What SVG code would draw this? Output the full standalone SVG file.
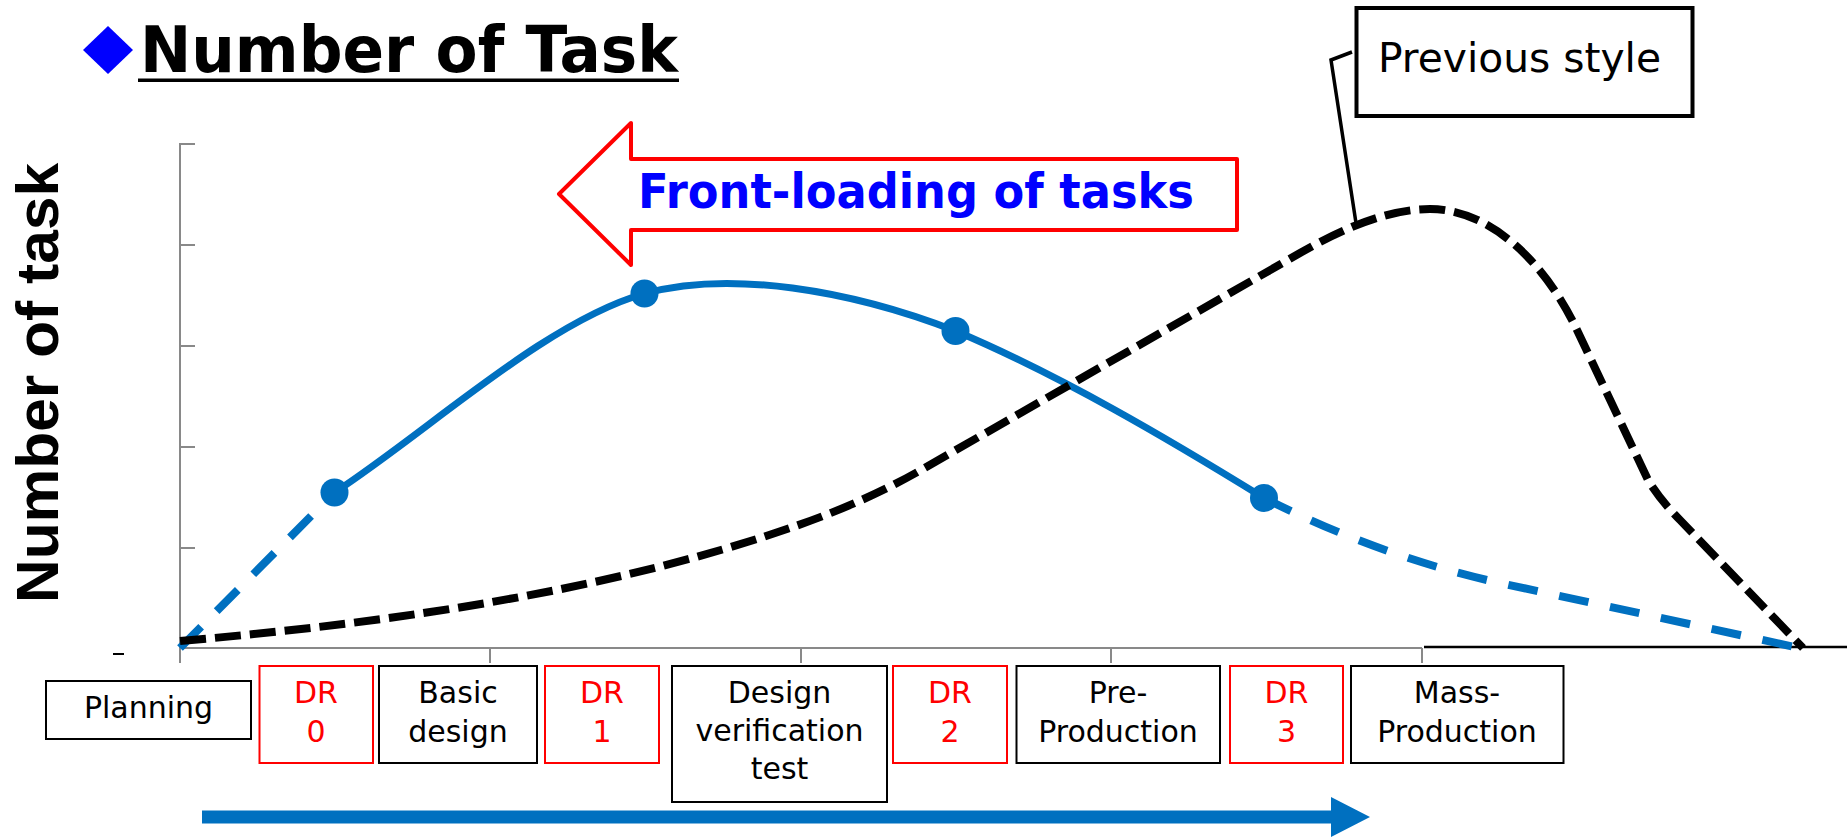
<svg xmlns="http://www.w3.org/2000/svg" width="1847" height="839" viewBox="0 0 1847 839">
  <style>
    .axis { stroke: #898989; stroke-width: 2; fill: none; }
    .box { fill: #fff; stroke: #000; stroke-width: 2; }
    .dr { fill: #fff; stroke: #ff0000; stroke-width: 2; }
    .lbl { font-family: "DejaVu Sans", "Liberation Sans", sans-serif; font-size: 30px; text-anchor: middle; fill: #000; }
    .lbl-red { fill: #ff0000; }
    .plan { fill: none; stroke: #0070c0; stroke-width: 7; stroke-linecap: butt; }
    .plan-dash { fill: none; stroke: #0070c0; stroke-width: 8; stroke-dasharray: 30 22; }
    .prev { fill: none; stroke: #000; stroke-width: 8; stroke-dasharray: 26 9; }
    .dot { fill: #0070c0; }
  </style>

  <!-- heading -->
  <g id="heading">
    <polygon points="108,26 133,50 108,74 83,50" fill="#0000ff"/>
    <text x="140" y="72" font-family="DejaVu Sans, Liberation Sans, sans-serif" font-weight="bold" font-size="64" textLength="538" lengthAdjust="spacingAndGlyphs" fill="#000">Number of Task</text>
    <rect x="138" y="78.5" width="541" height="3.5" fill="#000"/>
  </g>

  <!-- vertical axis title -->
  <g id="y-title">
    <text transform="translate(58,383) rotate(-90)" text-anchor="middle" font-family="Liberation Sans, Arial, sans-serif" font-weight="bold" font-size="60" textLength="440" lengthAdjust="spacingAndGlyphs" fill="#000">Number of task</text>
  </g>

  <!-- chart axes -->
  <g id="axes">
    <line class="axis" x1="180" y1="143" x2="180" y2="663"/>
    <line class="axis" x1="180" y1="144" x2="195" y2="144"/>
    <line class="axis" x1="180" y1="245" x2="195" y2="245"/>
    <line class="axis" x1="180" y1="346" x2="195" y2="346"/>
    <line class="axis" x1="180" y1="447" x2="195" y2="447"/>
    <line class="axis" x1="180" y1="548" x2="195" y2="548"/>
    <line class="axis" x1="180" y1="648" x2="1422" y2="648"/>
    <line class="axis" x1="490" y1="648" x2="490" y2="663"/>
    <line class="axis" x1="801" y1="648" x2="801" y2="663"/>
    <line class="axis" x1="1111" y1="648" x2="1111" y2="663"/>
    <line class="axis" x1="1422" y1="648" x2="1422" y2="663"/>
    <line x1="1424" y1="647" x2="1847" y2="647" stroke="#000" stroke-width="2.5"/>
    <line x1="113" y1="654" x2="124" y2="654" stroke="#000" stroke-width="2"/>
  </g>

  <!-- task curves -->
  <g id="connectors">
    <path class="plan-dash" d="M180,648 L334.5,492.5"/>
    <path class="plan" d="M334.5,492.5 C430,430 545,322 644.5,293.5 C730,270 850,290 955.5,331 C1060,375 1170,440 1264,498"/>
    <path class="plan-dash" d="M1264,498 Q1380,556.6 1500,583 L1795,647"/>
    <circle class="dot" cx="334.5" cy="492.5" r="14"/>
    <circle class="dot" cx="644.5" cy="293.5" r="14"/>
    <circle class="dot" cx="955.5" cy="331" r="14"/>
    <circle class="dot" cx="1264" cy="498" r="14"/>
    <path class="prev" d="M180,641 C400,622 610,590 790,528 C834,513 880,493.5 921,470 L1300,253 C1345,227 1390,209 1430,209 C1490,209 1545,262 1577,330 L1648,480 Q1660,500 1680,520 L1803,648"/>
    <!-- leader from the label box to the curve -->
    <polyline points="1352,52 1331,60 1356,223" fill="none" stroke="#000" stroke-width="3.5" stroke-linejoin="miter"/>
  </g>

  <!-- callout box -->
  <g id="previous-style">
    <rect x="1356.5" y="8" width="336" height="108" fill="#fff" stroke="#000" stroke-width="4"/>
    <text x="1378" y="72" font-family="DejaVu Sans, Liberation Sans, sans-serif" font-size="40.5" textLength="283" lengthAdjust="spacingAndGlyphs" fill="#000">Previous style</text>
  </g>

  <!-- front-loading arrow -->
  <g id="front-loading">
    <polygon points="559,194 631,123 631,159 1237,159 1237,230 631,230 631,265" fill="#fff" stroke="#ff0000" stroke-width="4" stroke-linejoin="round"/>
    <text x="638" y="208" font-family="DejaVu Sans, Liberation Sans, sans-serif" font-weight="bold" font-size="48" textLength="556" lengthAdjust="spacingAndGlyphs" fill="#0000ff">Front-loading of tasks</text>
  </g>

  <!-- development phases -->
  <g id="planning">
    <rect class="box" x="46" y="681" width="205" height="58"/>
    <text class="lbl" x="148.5" y="718">Planning</text>
  </g>
  <g id="dr0">
    <rect class="dr" x="259.5" y="666" width="113.5" height="97"/>
    <text class="lbl lbl-red" x="316" y="703">DR</text>
    <text class="lbl lbl-red" x="316" y="742">0</text>
  </g>
  <g id="basic-design">
    <rect class="box" x="379" y="666" width="158" height="97"/>
    <text class="lbl" x="458" y="703">Basic</text>
    <text class="lbl" x="458" y="742">design</text>
  </g>
  <g id="dr1">
    <rect class="dr" x="545" y="666" width="114" height="97"/>
    <text class="lbl lbl-red" x="602" y="703">DR</text>
    <text class="lbl lbl-red" x="602" y="742">1</text>
  </g>
  <g id="design-verification-test">
    <rect class="box" x="672" y="666" width="215" height="136"/>
    <text class="lbl" x="779.5" y="703">Design</text>
    <text class="lbl" x="779.5" y="741">verification</text>
    <text class="lbl" x="779.5" y="779">test</text>
  </g>
  <g id="dr2">
    <rect class="dr" x="893" y="666" width="114" height="97"/>
    <text class="lbl lbl-red" x="950" y="703">DR</text>
    <text class="lbl lbl-red" x="950" y="742">2</text>
  </g>
  <g id="pre-production">
    <rect class="box" x="1016.5" y="666" width="203.5" height="97"/>
    <text class="lbl" x="1118" y="703">Pre-</text>
    <text class="lbl" x="1118" y="742">Production</text>
  </g>
  <g id="dr3">
    <rect class="dr" x="1230" y="666" width="113" height="97"/>
    <text class="lbl lbl-red" x="1286.5" y="703">DR</text>
    <text class="lbl lbl-red" x="1286.5" y="742">3</text>
  </g>
  <g id="mass-production">
    <rect class="box" x="1351" y="666" width="212.5" height="97"/>
    <text class="lbl" x="1457" y="703">Mass-</text>
    <text class="lbl" x="1457" y="742">Production</text>
  </g>

  <!-- timeline arrow -->
  <g id="timeline">
    <polygon points="202,810.5 1331,810.5 1331,797 1370,817 1331,837 1331,823.5 202,823.5" fill="#0070c0"/>
  </g>
</svg>
